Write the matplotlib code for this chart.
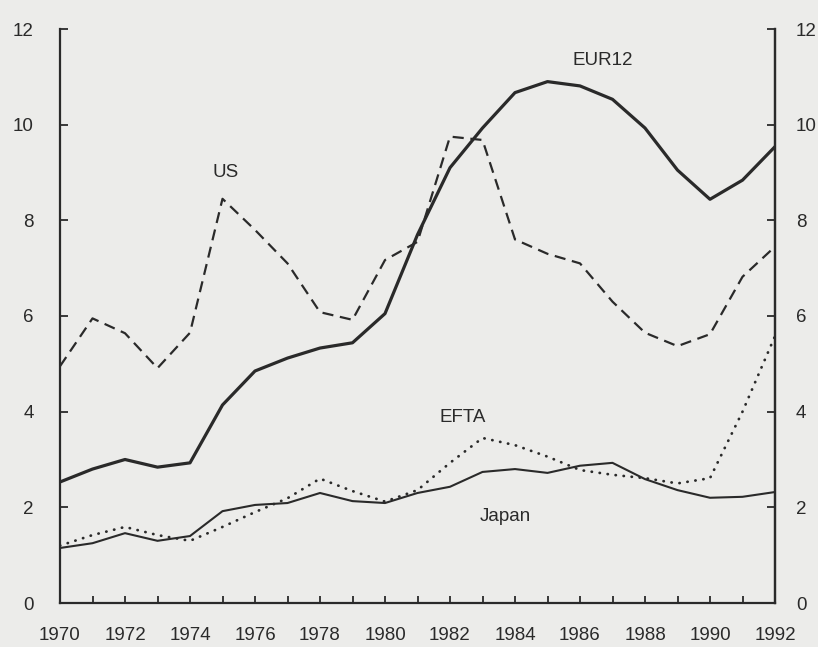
import numpy as np
import matplotlib
matplotlib.use('Agg')
import matplotlib.pyplot as plt

plt.rcParams['font.family'] = ['Liberation Sans', 'DejaVu Sans']

# data, 1970-1992
years = list(range(1970, 1993))
eur12 = [2.53, 2.8, 3.0, 2.84, 2.93, 4.14, 4.85, 5.12, 5.33, 5.44, 6.05, 7.7,
         9.1, 9.93, 10.67, 10.9, 10.81, 10.53, 9.93, 9.05, 8.44, 8.84, 9.54]
us = [4.95, 5.95, 5.64, 4.91, 5.65, 8.45, 7.8, 7.1, 6.08, 5.92, 7.17, 7.55,
      9.75, 9.68, 7.6, 7.3, 7.1, 6.3, 5.65, 5.37, 5.62, 6.82, 7.45]
japan = [1.15, 1.25, 1.46, 1.3, 1.4, 1.92, 2.05, 2.09, 2.3, 2.13, 2.09, 2.3,
         2.43, 2.74, 2.8, 2.72, 2.87, 2.93, 2.59, 2.36, 2.2, 2.22, 2.32]
efta = [1.2, 1.42, 1.59, 1.42, 1.3, 1.59, 1.9, 2.19, 2.6, 2.34, 2.12, 2.36,
        2.93, 3.45, 3.3, 3.06, 2.78, 2.68, 2.61, 2.5, 2.61, 4.0, 5.58]

y_ticks = [0, 2, 4, 6, 8, 10, 12]
x_labels = list(range(1970, 1993, 2))

bg = '#ececea'
ink = '#2a2a2a'
fs = 13.5

fig = plt.figure(figsize=(8.18, 6.47), dpi=100, facecolor=bg)
ax = fig.add_axes([60/818, 44/647, 715/818, 574/647])
ax.set_facecolor(bg)

ax.plot(years, eur12, color=ink, lw=2.3, solid_joinstyle='round')
ax.plot(years, us, color=ink, lw=1.6, dashes=(5, 3))
ax.plot(years, japan, color=ink, lw=1.5)
ax.plot(years, efta, color=ink, lw=2.0, linestyle=(0, (0.1, 2.8)),
        dash_capstyle='round')

ax.set_xlim(1970, 1992)
ax.set_ylim(0, 12)

# labels on the lines
ax.text(1975.1, 9.0, 'US', fontsize=fs, color=ink, ha='center', va='center')
ax.text(1986.7, 11.35, 'EUR12', fontsize=fs, color=ink, ha='center', va='center')
ax.text(1982.4, 3.87, 'EFTA', fontsize=fs, color=ink, ha='center', va='center')
ax.text(1983.7, 1.8, 'Japan', fontsize=fs, color=ink, ha='center', va='center')

ax.spines['top'].set_visible(False)
for s in ['left', 'right', 'bottom']:
    ax.spines[s].set_linewidth(1.6)
    ax.spines[s].set_color(ink)

ax.set_xticks(years, minor=True)
ax.set_xticks(x_labels)
ax.set_xticklabels([str(y) for y in x_labels])
ax.tick_params(axis='x', which='both', direction='in', length=5, width=1.3,
               color=ink, labelsize=fs, labelcolor=ink, pad=17)
ax.set_yticks(y_ticks)
ax.tick_params(axis='y', direction='in', length=6, width=1.3, color=ink,
               labelsize=fs, labelcolor=ink, pad=19)

ax2 = ax.twinx()
ax2.set_ylim(0, 12)
ax2.set_yticks(y_ticks)
ax2.tick_params(axis='y', direction='in', length=6, width=1.3, color=ink,
                labelsize=fs, labelcolor=ink, pad=15)
ax2.spines['top'].set_visible(False)
ax2.spines['left'].set_visible(False)
ax2.spines['bottom'].set_visible(False)
ax2.spines['right'].set_linewidth(1.6)
ax2.spines['right'].set_color(ink)

fig.savefig('out.png', dpi=100, facecolor=bg)
